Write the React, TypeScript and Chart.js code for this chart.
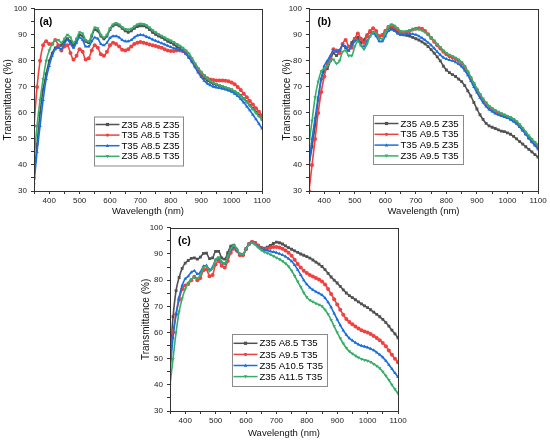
import React, { useEffect, useRef } from 'react';
import { Chart, registerables } from 'chart.js';

Chart.register(...registerables);

// Wavelength grid (nm)
const wavelengths = [
  350, 360, 370, 380, 390, 400, 410, 420, 430, 440,
  450, 460, 470, 480, 490, 500, 510, 520, 530, 540,
  550, 560, 570, 580, 590, 600, 610, 620, 630, 640,
  650, 660, 670, 680, 690, 700, 710, 720, 730, 740,
  750, 760, 770, 780, 790, 800, 810, 820, 830, 840,
  850, 860, 870, 880, 890, 900, 910, 920, 930, 940,
  950, 960, 970, 980, 990, 1000, 1010, 1020, 1030, 1040,
  1050, 1060, 1070, 1080, 1090, 1100,
];

// Panel (a)
const aLabels = ['Z35 A8.5 Z35', 'T35 A8.5 T35', 'T35 A8.5 Z35', 'Z35 A8.5 T35'];
const aZ35Z35 = [
  35, 48, 60, 69, 75, 80, 83, 85, 85.5, 86,
  87.5, 88.5, 87.5, 86, 88, 90, 89.5, 87.5, 87, 89.5,
  92, 91.5, 89.5, 88.5, 89.5, 92, 93.5, 94, 93.5, 92.5,
  91.5, 91, 91.5, 92.5, 93.2, 93.5, 93.5, 93, 92, 91,
  90.2, 89.5, 89, 88.3, 87.5, 87, 86.3, 85.5, 84.8, 84,
  83, 81.5, 80, 78, 76, 74.5, 73.5, 72.5, 71.8, 71.2,
  70.8, 70.4, 70, 69.6, 69.2, 68.8, 68.3, 67.5, 66.7, 65.5,
  64.3, 63, 61.7, 60.3, 59, 57.5,
];
const aT35T35 = [
  55, 70, 80, 86, 87.5, 86.5, 86.5, 88, 86, 84,
  85.5, 86, 83, 80.5, 82, 84.5, 83.5, 80.5, 81, 84,
  86, 85, 82.5, 82, 83.5, 86, 87, 86.5, 85.5, 84.3,
  84, 84.5, 85.5, 86.5, 87, 87.2, 87, 86.7, 86.3, 86,
  85.7, 85.3, 85, 84.5, 84, 83.8, 83.8, 84, 84, 83.7,
  82.8, 81.5, 80, 78.3, 76.7, 75.3, 74.2, 73.3, 72.8, 72.6,
  72.5, 72.5, 72.5, 72.4, 72.2, 71.7, 71, 70, 68.8, 67.4,
  66, 64.6, 63.2, 61.8, 60.4, 59,
];
const aT35Z35 = [
  33, 45, 55, 65, 73, 78, 82, 84.5, 85, 84.5,
  86.5, 88, 86.5, 85, 87, 89, 88, 85.5, 85.5, 87.5,
  89, 88.5, 86.5, 86, 87, 88.8, 89.5, 89.5, 89, 88,
  87.5, 87.5, 88, 89, 89.7, 90, 89.8, 89.3, 88.8, 88.2,
  87.7, 87.2, 86.8, 86.3, 85.8, 85.3, 84.8, 84.5, 84.2, 83.7,
  82.7, 81.2, 79.5, 77.5, 75.5, 73.8, 72.4, 71.3, 70.6, 70.1,
  69.8, 69.6, 69.3, 69, 68.6, 68.1, 67.4, 66.5, 65.3, 64,
  62.5, 61, 59.3, 57.6, 55.8, 54,
];
const aZ35T35 = [
  42, 55, 65, 73, 80, 84, 86.5, 88, 88, 87,
  88.5, 90, 89, 87, 88.5, 91, 90.5, 88, 87.5, 90,
  92.8, 92.5, 90, 89, 90, 92.5, 94, 94.5, 94, 93,
  92.2, 92, 92.3, 93.2, 94, 94.3, 94.2, 93.7, 92.8, 91.8,
  91, 90.2, 89.6, 89, 88.3, 87.8, 87.2, 86.5, 85.8, 85,
  84, 82.8, 81, 79, 77.3, 75.8, 74.5, 73.3, 72.3, 71.5,
  71, 70.6, 70.2, 69.8, 69.4, 69, 68.4, 67.6, 66.6, 65.4,
  64.2, 62.8, 61.4, 60, 58.7, 57.5,
];

// Panel (b)
const bLabels = ['Z35 A9.5 Z35', 'T35 A9.5 T35', 'T35 A9.5 Z35', 'Z35 A9.5 T35'];
const bZ35Z35 = [
  40, 47, 55, 65, 73, 76, 77, 80, 83, 82,
  84, 86, 85, 84, 87, 88.5, 89, 87, 88, 90,
  91, 91, 90, 89.5, 90, 91.5, 92.5, 92.5, 92, 91,
  90.3, 90, 89.8, 89.5, 89, 88.5, 88, 87.3, 86.5, 85.5,
  84.3, 83, 81.5, 80, 78, 76.5, 75.5, 74.7, 74, 73,
  72, 70.5, 68.5, 66.5, 64, 61.5, 59.3, 57.5, 56, 55,
  54.5, 54, 53.5, 53, 52.8, 52.3, 51.8, 51, 50, 49,
  48, 47, 46, 45, 44, 43,
];
const bT35T35 = [
  30, 40, 50, 60, 68, 74, 79, 81, 84.5, 84,
  83, 86.5, 88, 85.5, 85, 88.5, 90.5, 88.5, 87, 89.5,
  91.5, 92.5, 91.5, 89.5, 89.8, 91.5, 93, 93.5, 93, 92,
  91, 90.7, 91, 91.5, 92, 92.3, 92.5, 92.3, 91.5, 90.2,
  88.8, 87.3, 86, 84.7, 83.5, 82.5, 81.8, 81.3, 80.7, 80,
  79, 77.5, 75.5, 73.2, 71, 68.8, 66.8, 65, 63.5, 62.2,
  61.3, 60.5, 60, 59.5, 59, 58.5, 58, 57.3, 56.3, 55,
  53.5, 52, 50.5, 49, 48, 47,
];
const bT35Z35 = [
  40, 50, 58, 66, 73, 78, 80, 82, 84, 83.5,
  84, 86, 85.5, 84, 86, 87.5, 88, 86, 85.5, 87.5,
  89.5, 90.5, 89.5, 87.5, 87.5, 89.5, 91.5, 92, 91.5, 90.5,
  90, 90, 90.2, 90.3, 90.3, 90, 89.5, 88.8, 88, 87,
  86, 84.8, 83.5, 82.3, 81.3, 80.7, 80.3, 80, 79.5, 78.8,
  77.8, 76.3, 74.5, 72.3, 70, 67.8, 65.8, 64, 62.5, 61.3,
  60.5, 59.8, 59.3, 58.8, 58.4, 58, 57.4, 56.7, 55.8, 54.6,
  53.2, 51.8, 50.3, 48.8, 47.5, 46,
];
const bZ35T35 = [
  48, 57, 66, 72, 76, 77, 78, 80, 80.5, 79,
  80, 83.5, 84, 82, 82, 85.5, 87.5, 86, 84.5, 86.5,
  89.5, 91, 90.5, 88.5, 88.5, 91, 93, 94, 93.5, 92.5,
  91.5, 91.3, 91.5, 91.8, 92, 92.2, 92, 91.7, 91, 90,
  89, 87.8, 86.5, 85.3, 84, 83, 82.3, 81.8, 81.2, 80.5,
  79.5, 78, 76, 73.8, 71.5, 69.3, 67.3, 65.5, 64, 62.7,
  61.8, 61, 60.4, 59.8, 59.3, 58.8, 58.3, 57.7, 56.8, 55.6,
  54.2, 52.8, 51.3, 50, 48.8, 47.8,
];

// Panel (c)
const cLabels = ['Z35 A8.5 T35', 'Z35 A9.5 T35', 'Z35 A10.5 T35', 'Z35 A11.5 T35'];
const cA85 = [
  50, 66, 76, 81, 84.5, 86.5, 87.5, 88.3, 88.5, 88,
  88.8, 90.2, 90.3, 88.2, 88.5, 91, 91, 88.5, 88, 90.5,
  93, 93.4, 91.5, 90, 89.8, 92, 94, 94.7, 94.3, 93.3,
  92.5, 92.2, 92.6, 93.3, 94, 94.5, 94.3, 93.8, 93.1, 92.4,
  91.8, 91.2, 90.6, 90, 89.5, 89, 88.4, 87.7, 86.9, 86.1,
  85.2, 84, 82.6, 81.2, 80, 78.9, 77.6, 76.3, 75.1, 74.1,
  73.3, 72.5, 71.7, 70.9, 70.2, 69.5, 68.7, 67.8, 66.9, 66,
  65, 63.8, 62.4, 60.9, 59.5, 58,
];
const cA95 = [
  50, 60, 67, 72.5, 76.5, 78, 78.5, 80, 81.3, 80,
  80.8, 83.8, 84.2, 81.5, 82, 86, 87.3, 85.5, 84.8, 87.3,
  90.5, 92, 91.2, 89.5, 89.5, 91.8, 93.8, 94.6, 94.2, 93.2,
  92.2, 91.8, 92, 92.4, 92.7, 92.7, 92.5, 92, 91.3, 90.5,
  89.3, 87.8, 86.2, 84.8, 83.6, 82.7, 82, 81.4, 80.8, 80.2,
  79.5, 78.3, 76.6, 74.7, 72.7, 70.7, 68.7, 66.8, 65.2, 64,
  63.1, 62.3, 61.5, 60.9, 60.4, 60, 59.4, 58.7, 57.9, 57,
  56, 54.7, 53.1, 51.5, 50, 48.6,
];
const cA105 = [
  45, 58, 67, 73.5, 78, 80.5, 81.5, 83, 83.6, 82.3,
  83, 85.3, 85.6, 84, 85, 87.8, 88.3, 86.8, 86.3, 88.8,
  91.5, 92.8, 91.5, 89.8, 89.8, 92, 93.7, 94.2, 93.7, 92.7,
  92, 91.6, 91.3, 91, 90.8, 90.5, 90.1, 89.6, 89, 88.2,
  87.2, 85.8, 84, 82, 80, 78.4, 77.2, 76.3, 75.6, 75,
  74.3, 73.2, 71.6, 69.6, 67.3, 65, 62.8, 60.8, 59.1, 57.8,
  56.9, 56.1, 55.4, 54.9, 54.6, 54.3, 53.8, 53.2, 52.4, 51.5,
  50.5, 49.2, 47.7, 46.1, 44.5, 43,
];
const cA115 = [
  40, 50, 60, 68, 73, 76.5, 79, 80.3, 81, 80.8,
  82, 84.8, 85.3, 83.5, 84.5, 87.8, 88.7, 87, 86.5, 89,
  92, 93.3, 92, 90, 89.8, 92, 93.8, 94.3, 93.6, 92.5,
  91.5, 90.8, 90.3, 89.8, 89.2, 88.6, 88, 87.3, 86.4, 85.2,
  83.6, 81.6, 79.5, 77.4, 75.2, 73.5, 72.4, 71.7, 71.1, 70.6,
  70, 68.7, 67, 64.8, 62.4, 60, 57.8, 55.8, 54.1, 52.8,
  51.9, 51.1, 50.4, 49.9, 49.5, 49.2, 48.7, 48, 47.2, 46.3,
  45, 43.5, 41.8, 40, 38.3, 36.7,
];

const xTicks = [400, 500, 600, 700, 800, 900, 1000, 1100];
const yTicks = [30, 40, 50, 60, 70, 80, 90, 100];

const colors = ['#515151', '#F14040', '#1A6FDF', '#37AD6B'];
const markers = ['rect', 'circle', 'triangle', 'triangle'];
const rotations = [0, 0, 0, 180];

const FONT = "'Liberation Sans', Arial, sans-serif";

interface PanelProps {
  tag: string;
  labels: string[];
  series: number[][];
  box: { left: number; top: number; width: number; height: number };
  pad: { left: number; top: number; right: number };
  yWidth: number;
  xHeight: number;
  legend: { x: number; y: number; w: number; h: number; row0: number; gap: number };
  tagDx: number;
}

function drawMarker(ctx: CanvasRenderingContext2D, kind: number, x: number, y: number, r: number) {
  ctx.beginPath();
  if (kind === 0) {
    ctx.rect(x - r, y - r, r * 2, r * 2);
  } else if (kind === 1) {
    ctx.arc(x, y, r, 0, Math.PI * 2);
  } else if (kind === 2) {
    ctx.moveTo(x, y - r * 1.2);
    ctx.lineTo(x + r * 1.1, y + r * 0.8);
    ctx.lineTo(x - r * 1.1, y + r * 0.8);
    ctx.closePath();
  } else {
    ctx.moveTo(x, y + r * 1.2);
    ctx.lineTo(x + r * 1.1, y - r * 0.8);
    ctx.lineTo(x - r * 1.1, y - r * 0.8);
    ctx.closePath();
  }
  ctx.fill();
}

const Panel: React.FC<PanelProps> = ({ tag, labels, series, box, pad, yWidth, xHeight, legend, tagDx }) => {
  const canvasRef = useRef<HTMLCanvasElement | null>(null);

  useEffect(() => {
    if (!canvasRef.current) return;
    const ctx = canvasRef.current.getContext('2d');
    if (!ctx) return;

    // frame, panel tag and legend drawn on top of the plot
    const decor = {
      id: 'decor' + tag,
      afterDraw(chart: Chart) {
        const c = chart.ctx;
        const a = chart.chartArea;
        c.save();
        c.strokeStyle = '#333333';
        c.lineWidth = 1;
        c.strokeRect(Math.round(a.left) + 0.5, Math.round(a.top) + 0.5, Math.round(a.right - a.left), Math.round(a.bottom - a.top));

        c.fillStyle = '#000';
        c.font = `bold 10.5px ${FONT}`;
        c.textBaseline = 'middle';
        c.textAlign = 'left';
        c.fillText(`(${tag})`, a.left + tagDx, a.top + 13);

        c.fillStyle = '#fff';
        c.fillRect(legend.x, legend.y, legend.w, legend.h);
        c.strokeStyle = '#8a8a8a';
        c.strokeRect(legend.x + 0.5, legend.y + 0.5, legend.w, legend.h);
        labels.forEach((lab, i) => {
          const y = legend.row0 + i * legend.gap;
          c.strokeStyle = colors[i];
          c.lineWidth = 1.5;
          c.beginPath();
          c.moveTo(legend.x + 1.5, y);
          c.lineTo(legend.x + 25.5, y);
          c.stroke();
          c.fillStyle = colors[i];
          drawMarker(c, i, legend.x + 13.5, y, 1.6);
          c.fillStyle = '#000';
          c.font = `9.6px ${FONT}`;
          c.fillText(lab, legend.x + 27.5, y + 0.5);
        });
        c.restore();
      },
    };

    const chart = new Chart(ctx, {
      type: 'line',
      data: {
        datasets: series.map((vals, i) => ({
          label: labels[i],
          data: wavelengths.map((x, j) => ({ x, y: vals[j] })),
          borderColor: colors[i],
          backgroundColor: colors[i],
          borderWidth: 1.6,
          pointStyle: markers[i] as any,
          rotation: rotations[i],
          pointRadius: 2,
          pointBorderWidth: 0,
          pointBackgroundColor: colors[i],
          cubicInterpolationMode: 'monotone' as const,
          order: series.length - i,
        })),
      },
      options: {
        animation: false,
        responsive: true,
        maintainAspectRatio: false,
        layout: { padding: { left: pad.left, top: pad.top, right: pad.right, bottom: 0 } },
        plugins: {
          legend: { display: false },
          tooltip: { enabled: false },
        },
        scales: {
          x: {
            type: 'linear',
            min: 350,
            max: 1100,
            afterFit: (s: any) => { s.height = xHeight; },
            ticks: {
              stepSize: 50,
              autoSkip: false,
              maxRotation: 0,
              padding: 2,
              color: '#222',
              font: { family: FONT, size: 8 },
              callback: (v: any) => (xTicks.includes(Number(v)) ? String(v) : ''),
            },
            grid: { drawOnChartArea: false, drawTicks: true, tickLength: 3, color: '#333' },
            border: { display: true, color: '#333' },
            title: {
              display: true,
              text: 'Wavelength (nm)',
              color: '#111',
              font: { family: FONT, size: 9.5 },
              padding: 0,
            },
          },
          y: {
            min: 30,
            max: 100,
            afterFit: (s: any) => { s.width = yWidth; },
            ticks: {
              stepSize: 5,
              autoSkip: false,
              padding: 4,
              color: '#222',
              font: { family: FONT, size: 8 },
              callback: (v: any) => (yTicks.includes(Number(v)) ? String(v) : ''),
            },
            grid: { drawOnChartArea: false, drawTicks: true, tickLength: 3, color: '#333' },
            border: { display: true, color: '#333' },
            title: {
              display: true,
              text: 'Transmittance (%)',
              color: '#111',
              font: { family: FONT, size: 10 },
              padding: 0,
            },
          },
        },
      },
      plugins: [decor],
    });

    return () => {
      chart.destroy();
    };
  }, [tag, labels, series, pad, yWidth, xHeight, legend, tagDx]);

  return (
    <div style={{ position: 'absolute', left: box.left, top: box.top, width: box.width, height: box.height }}>
      <canvas ref={canvasRef} />
    </div>
  );
};

const panels: PanelProps[] = [
  {
    tag: 'a',
    labels: aLabels,
    series: [aZ35Z35, aT35T35, aT35Z35, aZ35T35],
    box: { left: 0, top: 0, width: 275, height: 217 },
    pad: { left: 2, top: 7, right: 13 },
    yWidth: 32,
    xHeight: 26,
    legend: { x: 94, y: 116.5, w: 89, h: 49, row0: 124.5, gap: 10.6 },
    tagDx: 5.5,
  },
  {
    tag: 'b',
    labels: bLabels,
    series: [bZ35Z35, bT35T35, bT35Z35, bZ35T35],
    box: { left: 281, top: 0, width: 269, height: 217 },
    pad: { left: 0, top: 7, right: 12 },
    yWidth: 28,
    xHeight: 26,
    legend: { x: 92, y: 115, w: 90, h: 49, row0: 123.5, gap: 10.8 },
    tagDx: 8.5,
  },
  {
    tag: 'c',
    labels: cLabels,
    series: [cA85, cA95, cA105, cA115],
    box: { left: 140, top: 219, width: 270, height: 220 },
    pad: { left: 0, top: 7, right: 12 },
    yWidth: 30,
    xHeight: 28,
    legend: { x: 92, y: 115, w: 95, h: 52, row0: 124.3, gap: 11.1 },
    tagDx: 8,
  },
];

export default function App() {
  return (
    <div style={{ position: 'absolute', left: 0, top: 0, width: 550, height: 441, background: '#fff' }}>
      {panels.map(p => (
        <Panel key={p.tag} {...p} />
      ))}
    </div>
  );
}
